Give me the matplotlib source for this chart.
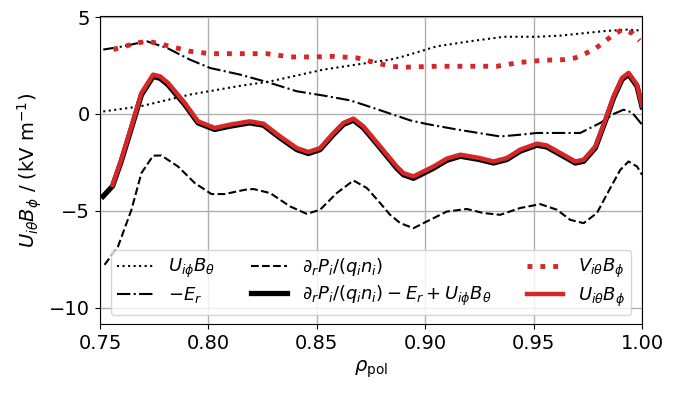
import matplotlib
matplotlib.use("Agg")
import matplotlib.pyplot as plt

# U_iphi B_theta (black dotted)
rho_ub = [0.7515, 0.7685, 0.7915, 0.8146, 0.8285, 0.8531, 0.8685, 0.8838, 0.890, 0.9054,
          0.9208, 0.9362, 0.9515, 0.9623, 0.9823, 0.9931, 1.0]
val_ub = [0.13, 0.39, 1.00, 1.45, 1.68, 2.29, 2.55, 2.80, 2.97, 3.49,
          3.75, 3.98, 3.98, 4.04, 4.27, 4.35, 4.30]

# -E_r (dash-dot)
rho_er = [0.7515, 0.7608, 0.7715, 0.7808, 0.7915, 0.8008, 0.8146, 0.8285, 0.8408, 0.8531,
          0.8654, 0.8715, 0.8838, 0.8931, 0.9008, 0.9146, 0.9346, 0.9438, 0.9515, 0.9623,
          0.9715, 0.9808, 0.9869, 0.9915, 0.9954, 1.0]
val_er = [3.32, 3.49, 3.75, 3.41, 2.80, 2.37, 2.03, 1.60, 1.17, 0.95,
          0.70, 0.48, 0.02, -0.33, -0.52, -0.80, -1.16, -1.07, -0.98, -0.98,
          -0.98, -0.46, 0.00, 0.22, 0.08, -0.55]

# dP/(q n) (dashed)
rho_dp = [0.7521, 0.7583, 0.7645, 0.7691, 0.7745, 0.7783, 0.7860, 0.7937, 0.8014, 0.8075,
          0.8168, 0.8208, 0.8285, 0.8377, 0.8454, 0.8515, 0.8592, 0.8669, 0.8731, 0.8792,
          0.8838, 0.8885, 0.8946, 0.9008, 0.91, 0.9192, 0.9269, 0.9346, 0.9438, 0.9531,
          0.9608, 0.9669, 0.9731, 0.9792, 0.9862, 0.9900, 0.9938, 0.9977, 1.0]
val_dp = [-7.78, -6.84, -4.94, -3.05, -2.15, -2.14, -2.71, -3.56, -4.13, -4.13,
          -3.91, -3.87, -4.08, -4.77, -5.15, -4.94, -4.08, -3.43, -3.82, -4.59,
          -5.20, -5.63, -5.89, -5.54, -5.03, -4.90, -5.11, -5.20, -4.85, -4.65,
          -4.94, -5.46, -5.63, -5.11, -3.65, -2.88, -2.45, -2.71, -3.13]

# dP/(q n) - E_r + U_iphi B_theta (thick black)
rho_sum = [0.7514, 0.7558, 0.7598, 0.7645, 0.7691, 0.7745, 0.7777, 0.7814, 0.7891, 0.7952,
           0.8029, 0.810, 0.819, 0.8254, 0.8331, 0.8408, 0.8461, 0.8515, 0.8577, 0.8623,
           0.8669, 0.8715, 0.8792, 0.8869, 0.8900, 0.8946, 0.9038, 0.9100, 0.9162, 0.9250,
           0.9315, 0.9377, 0.9438, 0.9515, 0.9560, 0.9623, 0.9692, 0.9731, 0.9785, 0.9831,
           0.9869, 0.9908, 0.9938, 0.9977, 1.0]
val_sum = [-4.25, -3.72, -2.44, -0.73, 0.98, 1.93, 1.84, 1.50, 0.48, -0.46,
           -0.80, -0.63, -0.46, -0.58, -1.24, -1.84, -2.04, -1.84, -1.06, -0.54,
           -0.32, -0.72, -1.75, -2.80, -3.14, -3.32, -2.80, -2.39, -2.18, -2.35,
           -2.53, -2.35, -1.92, -1.61, -1.70, -2.09, -2.53, -2.44, -1.75, -0.37,
           0.83, 1.78, 2.04, 1.43, 0.37]

# V_itheta B_phi (red dotted)
rho_v = [0.7562, 0.7669, 0.7723, 0.7823, 0.7915, 0.8008, 0.8146, 0.8269, 0.8377, 0.8469,
         0.8577, 0.8685, 0.8777, 0.8838, 0.890, 0.9054, 0.9208, 0.9331, 0.9438, 0.9546,
         0.9638, 0.9692, 0.9738, 0.9785, 0.9823, 0.9866, 0.9908, 0.9954, 0.9989]
val_v = [3.32, 3.66, 3.75, 3.49, 3.23, 3.11, 3.11, 3.11, 2.94, 2.94,
         2.97, 2.89, 2.63, 2.46, 2.41, 2.46, 2.46, 2.46, 2.66, 2.77,
         2.80, 2.89, 3.11, 3.37, 3.70, 4.06, 4.35, 4.18, 3.78]

# U_itheta B_phi (red solid)
rho_u = [0.7558, 0.7598, 0.7645, 0.7691, 0.7745, 0.7777, 0.7814, 0.7891, 0.7952,
         0.8029, 0.810, 0.819, 0.8254, 0.8331, 0.8408, 0.8461, 0.8515, 0.8577, 0.8623,
         0.8669, 0.8715, 0.8792, 0.8869, 0.8900, 0.8946, 0.9038, 0.9100, 0.9162, 0.9250,
         0.9315, 0.9377, 0.9438, 0.9515, 0.9560, 0.9623, 0.9692, 0.9731, 0.9785, 0.9831,
         0.9869, 0.9908, 0.9938, 0.9977, 1.0]
val_u = [-3.66, -2.36, -0.64, 1.08, 2.03, 1.94, 1.60, 0.57, -0.38,
         -0.72, -0.55, -0.38, -0.50, -1.16, -1.76, -1.96, -1.76, -0.98, -0.46,
         -0.24, -0.64, -1.67, -2.71, -3.05, -3.22, -2.71, -2.30, -2.10, -2.27,
         -2.45, -2.27, -1.84, -1.53, -1.62, -2.01, -2.45, -2.36, -1.67, -0.29,
         0.91, 1.86, 2.12, 1.51, 0.45]

labels = [r"$U_{i\phi}B_\theta$", r"$-E_r$", r"$\partial_r P_i/(q_i n_i)$",
          r"$\partial_r P_i/(q_i n_i) - E_r + U_{i\phi}B_\theta$",
          r"$V_{i\theta}B_\phi$", r"$U_{i\theta}B_\phi$"]
xticks = [0.75, 0.80, 0.85, 0.90, 0.95, 1.00]
yticks = [-10, -5, 0, 5]

red = "#d62728"
plt.rcParams["font.size"] = 14

fig = plt.figure(figsize=(6.77, 3.93), dpi=100)
ax = fig.add_axes([0.1477, 0.1756, 0.8006, 0.7836])

ax.plot(rho_ub, val_ub, color="black", ls=":", lw=1.5, label=labels[0])
ax.plot(rho_er, val_er, color="black", ls="-.", lw=1.5, label=labels[1])
ax.plot(rho_dp, val_dp, color="black", ls="--", lw=1.5, label=labels[2])
ax.plot(rho_sum, val_sum, color="black", ls="-", lw=3.8, label=labels[3])
ax.plot(rho_v, val_v, color=red, ls=":", lw=3.5, label=labels[4])
ax.plot(rho_u, val_u, color=red, ls="-", lw=3.2, label=labels[5])

ax.set_xlim(0.75, 1.0)
ax.set_ylim(-10.83, 5.05)
ax.set_xticks(xticks)
ax.set_yticks(yticks)
ax.grid(True, color="#b0b0b0", lw=1)
ax.set_axisbelow(True)
ax.set_xlabel(r"$\rho_\mathrm{pol}$")
ax.set_ylabel(r"$U_{i\theta}B_\phi$ / (kV m$^{-1}$)")
ax.legend(ncol=3, loc="lower center", fontsize=13, labelspacing=0.3,
          borderpad=0.35)

fig.savefig("out.png", dpi=100)
